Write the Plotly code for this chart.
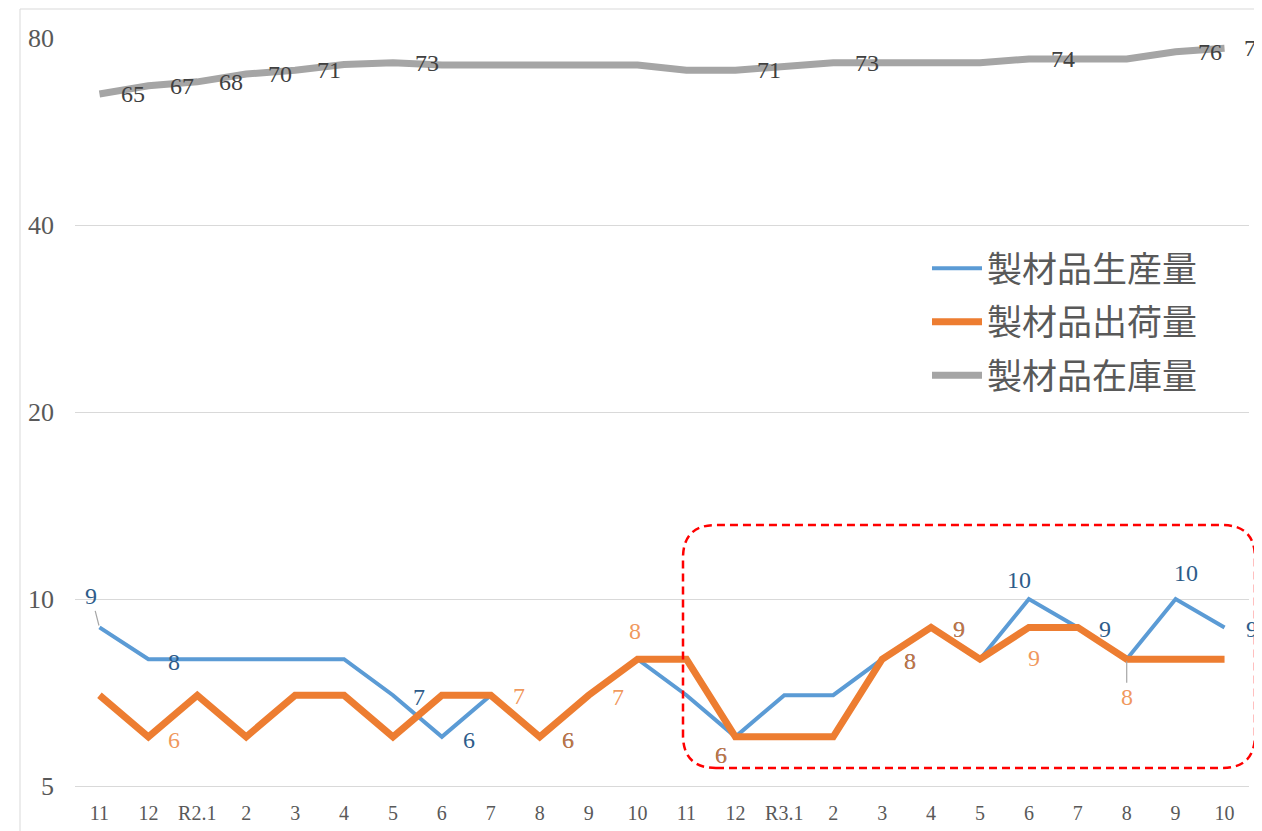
import math
import plotly.graph_objects as go

# ---- data ----
months = ["11", "12", "R2.1", "2", "3", "4", "5", "6", "7", "8", "9", "10",
          "11", "12", "R3.1", "2", "3", "4", "5", "6", "7", "8", "9", "10"]
production = [9, 8, 8, 8, 8, 8, 7, 6, 7, 6, 7, 8, 7, 6, 7, 7, 8, 9, 8, 10, 9, 8, 10, 9]
shipment = [7, 6, 7, 6, 7, 7, 6, 7, 7, 6, 7, 8, 8, 6, 6, 6, 8, 9, 8, 9, 9, 8, 8, 8]
inventory = [65, 67, 68, 70, 71, 72.5, 73, 72.4, 72.4, 72.4, 72.4, 72.4,
             71, 71, 72, 73, 73, 73, 73, 74, 74, 74, 76, 77]
names = ["製材品生産量", "製材品出荷量", "製材品在庫量"]
y_ticks = [5, 10, 20, 40, 80]

# ---- label placement (style: pixel offsets of shown data labels) ----
prod_labels = {0: (-8, -31), 1: (26, 3), 6: (26, 2), 7: (27, 3), 9: (28, 3), 13: (-14, 18),
               16: (28, 2), 17: (28, 2), 19: (-10, -19), 20: (27, 2), 22: (10, -26), 23: (27, 2)}
ship_labels = {1: (26, 3), 8: (28, 1), 9: (28, 3), 10: (29, 2), 11: (-3, -28), 13: (-14, 18),
               16: (28, 2), 17: (28, 2), 19: (5, 31), 21: (0, 38)}
inv_labels = {i: (34, 0) for i in [0, 1, 2, 3, 4, 6, 13, 15, 19, 22]}
inv_labels[23] = (31, 0)
leader = {("p", 0), ("s", 21)}

# page geometry (page has an 8px body margin)
OFF = 8
W, H = 1262 - OFF, 831 - OFF
PL, PT, PR, PB = 75, 38, 1249, 786          # plot area in page pixels
PW, PH = PR - PL, PB - PT
ML, MT = PL - OFF, PT - OFF
MR, MB = (W + OFF) - PR, (H + OFF) - PB


def px(x):
    return (x - PL) / PW


def py(y):
    return (PB - y) / PH


BLUE, ORANGE, GRAY = "#5B9BD5", "#ED7D31", "#A5A5A5"
SERIF = "Liberation Serif"
LBL = 24

xs = list(range(len(months)))
fig = go.Figure()
fig.add_trace(go.Scatter(x=xs, y=production, name=names[0], mode="lines", legendgroup="a",
                         line=dict(color=BLUE, width=4)))
fig.add_trace(go.Scatter(x=xs, y=shipment, name=names[1], mode="lines", legendgroup="b",
                         line=dict(color=ORANGE, width=7)))
fig.add_trace(go.Scatter(x=xs, y=inventory, name=names[2], mode="lines", legendgroup="c",
                         line=dict(color=GRAY, width=7)))

annotations = []


def add_labels(values, labels, color, key):
    for i, (dx, dy) in labels.items():
        txt = str(int(round(values[i])))
        if (key, i) in leader:
            annotations.append(dict(x=i, y=math.log10(values[i]), text=txt, showarrow=True,
                                    ax=dx, ay=dy, arrowhead=0, arrowwidth=1.2,
                                    arrowcolor="#A6A6A6", standoff=2,
                                    font=dict(family=SERIF, size=LBL, color=color)))
        else:
            annotations.append(dict(x=i, y=math.log10(values[i]), text=txt, showarrow=False,
                                    xshift=dx, yshift=-dy,
                                    font=dict(family=SERIF, size=LBL, color=color)))


add_labels(inventory, inv_labels, "#404040", "g")
add_labels(production, prod_labels, "#2E5C8A", "p")
add_labels(shipment, ship_labels, "rgba(237,125,49,0.8)", "s")

# rounded dashed highlight box
x0, x1, y0, y1 = px(683), px(1255), py(768), py(525)
rx, ry = 33 / PW, 33 / PH
path = (f"M {x0+rx},{y0} L {x1-rx},{y0} Q {x1},{y0} {x1},{y0+ry} L {x1},{y1-ry} "
        f"Q {x1},{y1} {x1-rx},{y1} L {x0+rx},{y1} Q {x0},{y1} {x0},{y1-ry} "
        f"L {x0},{y0+ry} Q {x0},{y0} {x0+rx},{y0} Z")
shapes = [
    dict(type="rect", xref="paper", yref="paper", x0=px(20), x1=px(1400), y0=py(950), y1=py(9),
         line=dict(color="#D9D9D9", width=1), layer="below"),
    dict(type="path", xref="paper", yref="paper", path=path,
         line=dict(color="#FF0000", width=2.5, dash="8px,5px")),
]

fig.update_layout(
    width=W, height=H,
    margin=dict(l=ML, r=MR, t=MT, b=MB, pad=0),
    paper_bgcolor="white", plot_bgcolor="white",
    showlegend=True,
    legend=dict(x=px(927), y=py(239), xanchor="left", yanchor="top",
                font=dict(family="Noto Sans CJK JP", size=35, color="#595959"),
                bgcolor="rgba(0,0,0,0)", itemwidth=50, tracegroupgap=5),
    annotations=annotations,
    shapes=shapes,
    xaxis=dict(range=[-0.5, len(months) - 0.5], tickmode="array", tickvals=xs, ticktext=months,
               showgrid=False, zeroline=False, showline=True, linecolor="#D9D9D9", linewidth=1,
               ticks="", ticklabelstandoff=9, automargin=False,
               tickfont=dict(family=SERIF, size=20, color="#595959")),
    yaxis=dict(type="log", range=[math.log10(5) - 1e-6, math.log10(80) + 1e-6],
               tickmode="array", tickvals=y_ticks, ticktext=[str(v) for v in y_ticks],
               showgrid=True, gridcolor="#D9D9D9", gridwidth=1, zeroline=False, showline=False,
               ticks="", ticklabelstandoff=20, automargin=False,
               tickfont=dict(family=SERIF, size=26, color="#595959")),
)

fig.write_html("out.html")
